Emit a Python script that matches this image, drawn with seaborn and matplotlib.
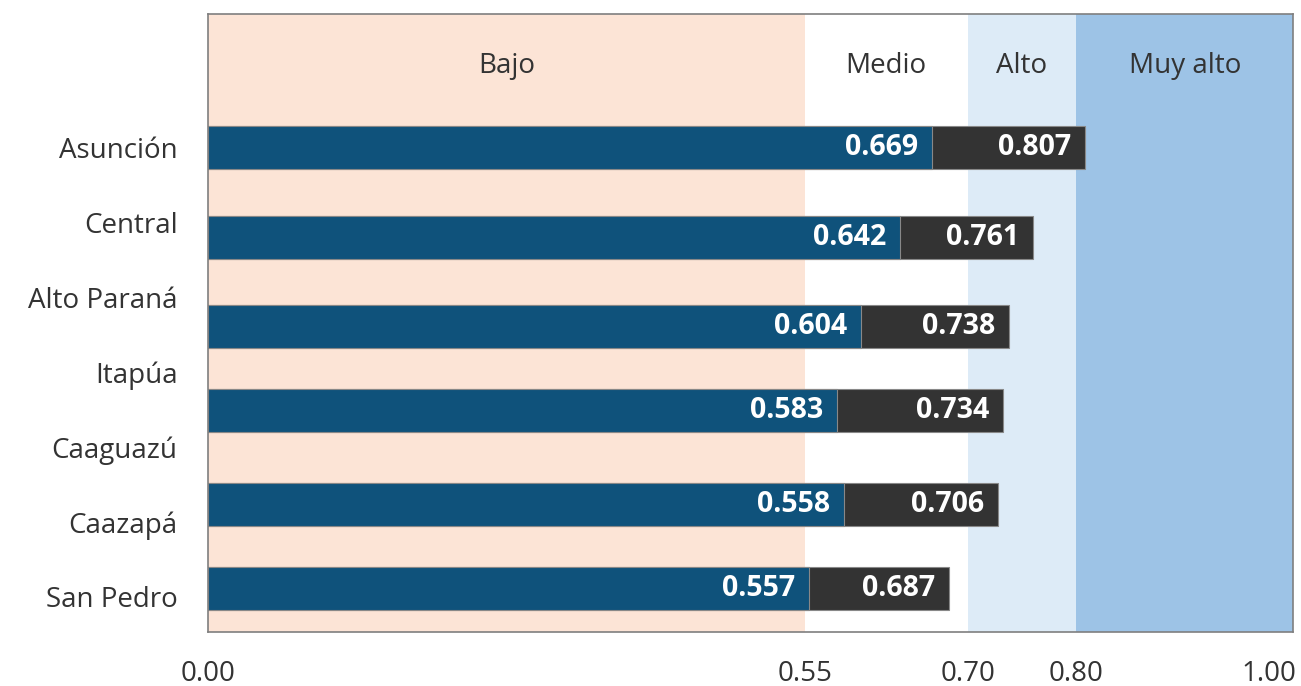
import numpy as np
import pandas as pd
import seaborn as sns
import matplotlib.pyplot as plt
from matplotlib.transforms import ScaledTranslation

sns.set_style("white")
plt.rcParams['font.family'] = ['Open Sans', 'DejaVu Sans']

# data
regions = ['Asunción', 'Central', 'Alto Paraná', 'Itapúa', 'Caaguazú', 'Caazapá', 'San Pedro']
low_labels = ['0.669', '0.642', '0.604', '0.583', '0.558', '0.557']
high_labels = ['0.807', '0.761', '0.738', '0.734', '0.706', '0.687']
# bar lengths as drawn in the picture
low_len = [0.667, 0.638, 0.602, 0.580, 0.586, 0.554]
high_len = [0.808, 0.760, 0.738, 0.733, 0.728, 0.683]
bar_pos = [0.0, 1.2, 2.39, 3.51, 4.77, 5.89]

band_names = ['Bajo', 'Medio', 'Alto', 'Muy alto']
band_edges = [0.0, 0.55, 0.70, 0.80, 1.00]
band_colors = ['#fce4d6', '#ffffff', '#ddebf7', '#9dc3e6']
xticks = [0.0, 0.55, 0.70, 0.80, 1.00]

text_col = '#333333'
blue = '#0f527b'
dark = '#333333'
fs = 20

df = pd.DataFrame({'pos': bar_pos, 'low': low_len, 'high': high_len})

fig, ax = plt.subplots(figsize=(13.01, 6.86), dpi=100)
fig.subplots_adjust(left=0.160, right=0.994, top=0.979, bottom=0.079)

for i, name in enumerate(band_names):
    ax.axvspan(band_edges[i], band_edges[i + 1], color=band_colors[i], zorder=0, lw=0)
    ax.text((band_edges[i] + band_edges[i + 1]) / 2, -1.08, name,
            ha='center', va='center', fontsize=fs, color=text_col)

bar_h = 0.575
w = bar_h / np.diff(sorted(bar_pos)).min()
sns.barplot(data=df, x='high', y='pos', orient='y', native_scale=True, width=w,
            color=dark, saturation=1, edgecolor='#888888', linewidth=0.8, ax=ax, zorder=2)
sns.barplot(data=df, x='low', y='pos', orient='y', native_scale=True, width=w,
            color=blue, saturation=1, edgecolor='#888888', linewidth=0.8, ax=ax, zorder=3)

for p, lo, hi, lt, ht in zip(bar_pos, low_len, high_len, low_labels, high_labels):
    ax.annotate(lt, (lo, p), xytext=(-10, 0), textcoords='offset points',
                ha='right', va='center', color='white', fontsize=fs + 0.5, fontweight='bold', zorder=4)
    ax.annotate(ht, (hi, p), xytext=(-10, 0), textcoords='offset points',
                ha='right', va='center', color='white', fontsize=fs + 0.5, fontweight='bold', zorder=4)

ax.set_xlim(0, 1)
ax.set_ylim(6.467, -1.773)
ax.set_xticks(xticks)
ax.set_xticklabels([f'{t:.2f}' for t in xticks])
ax.set_yticks(range(len(regions)))
ax.set_yticklabels(regions)
ax.tick_params(axis='x', length=0, pad=20, labelsize=fs, labelcolor=text_col)
ax.tick_params(axis='y', length=0, pad=22, labelsize=fs, labelcolor=text_col)
last = ax.get_xticklabels()[-1]
last.set_horizontalalignment('right')
last.set_transform(last.get_transform() + ScaledTranslation(3 / 100, 0, fig.dpi_scale_trans))
ax.set_xlabel('')
ax.set_ylabel('')
for s in ax.spines.values():
    s.set_color('#7f7f7f')
    s.set_linewidth(1.2)
    s.set_zorder(5)

fig.savefig('out.png', dpi=100)
